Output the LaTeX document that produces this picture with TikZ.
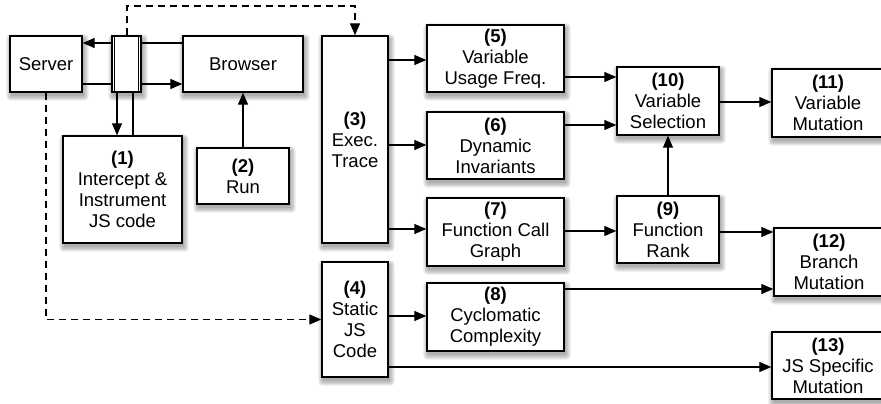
\documentclass[tikz,border=0pt]{standalone}
\usepackage{fontspec}
\setmainfont{Liberation Sans}
\usetikzlibrary{arrows.meta,backgrounds}
\begin{document}
\begin{tikzpicture}[x=1pt,y=-1pt,
  font=\fontsize{18.5}{21}\selectfont,
  box/.style={draw=black,line width=1.4pt,fill=white,inner sep=0pt,align=center},
  conn/.style={line width=1.3pt},
  arr/.style={conn,-{Triangle[length=12pt,width=10pt]}},
  dsh/.style={dash pattern=on 7pt off 5pt}]
\useasboundingbox (0,0) rectangle (881,404);
\clip (0,0) rectangle (881,404);
% nodes
\node[box,minimum width=72pt,minimum height=56pt] (server) at (46,64) {Server};
\node[box,minimum width=29pt,minimum height=56pt] (proxy) at (126.5,64) {};
\draw[line width=1.2pt] ([xshift=3.5pt]proxy.north west) -- ([xshift=3.5pt]proxy.south west)
  ([xshift=-3.5pt]proxy.north east) -- ([xshift=-3.5pt]proxy.south east);
\node[box,minimum width=120pt,minimum height=56pt] (browser) at (243,64) {Browser};
\node[box,minimum width=119pt,minimum height=107pt] (n1) at (122.5,189.5) {\textbf{(1)}\\Intercept \&\\Instrument\\JS code};
\node[box,minimum width=92pt,minimum height=56pt] (n2) at (243,176) {\textbf{(2)}\\Run};
\node[box,minimum width=66pt,minimum height=207pt] (n3) at (355,139.5) {\textbf{(3)}\\Exec.\\Trace};
\node[box,minimum width=66pt,minimum height=115pt] (n4) at (355,319.5) {\textbf{(4)}\\Static\\JS\\Code};
\node[box,minimum width=137pt,minimum height=67pt] (n5) at (495.5,58.5) {\textbf{(5)}\\Variable\\Usage Freq.};
\node[box,minimum width=137pt,minimum height=67pt] (n6) at (495.5,145.5) {\textbf{(6)}\\Dynamic\\Invariants};
\node[box,minimum width=137pt,minimum height=68pt] (n7) at (495.5,232) {\textbf{(7)}\\Function Call\\Graph};
\node[box,minimum width=137pt,minimum height=68pt] (n8) at (495.5,317) {\textbf{(8)}\\Cyclomatic\\Complexity};
\node[box,minimum width=102pt,minimum height=67pt] (n9) at (668,229.5) {\textbf{(9)}\\Function\\Rank};
\node[box,minimum width=102pt,minimum height=68pt] (n10) at (668,101) {\textbf{(10)}\\Variable\\Selection};
\node[box,minimum width=112pt,minimum height=68pt] (n11) at (828,103) {\textbf{(11)}\\Variable\\Mutation};
\node[box,minimum width=110pt,minimum height=68pt] (n12) at (829,262) {\textbf{(12)}\\Branch\\Mutation};
\node[box,minimum width=112pt,minimum height=67pt] (n13) at (828,365.5) {\textbf{(13)}\\JS Specific\\Mutation};
% soft shadows
\begin{scope}[on background layer]
\foreach \n in {server,proxy,browser,n1,n2,n3,n4,n5,n6,n7,n8,n9,n10,n11,n12,n13}{
  \foreach \e in {0,1.5,3,4.5}{
    \fill[black,opacity=0.09,rounded corners=\e pt]
      ([shift={(1.5-\e,3.5-\e)}]\n.north west) rectangle ([shift={(1.5+\e,3.5+\e)}]\n.south east);
  }
}
\end{scope}
% connectors around proxy
\draw[arr] (proxy.west |- 0,43) -- (server.east |- 0,43);
\draw[conn] (server.east |- 0,84) -- (proxy.west |- 0,84);
\draw[conn] (browser.west |- 0,43) -- (proxy.east |- 0,43);
\draw[arr] (proxy.east |- 0,84) -- (browser.west |- 0,84);
\draw[arr] (proxy.south -| 117,0) -- (n1.north -| 117,0);
\draw[conn] (n1.north -| 133,0) -- (proxy.south -| 133,0);
\draw[arr] (n2.north) -- (browser.south);
% dashed
\draw[arr,dsh] (proxy.north -| 127,0) -- (127,6) -| (n3.north);
\draw[arr,dsh] (server.south) |- (n4.west);
% analysis
\draw[arr] (n3.east |- 0,60) -- (n5.west |- 0,60);
\draw[arr] (n3.east |- 0,145) -- (n6.west |- 0,145);
\draw[arr] (n3.east |- 0,229) -- (n7.west |- 0,229);
\draw[arr] (n4.east |- 0,316) -- (n8.west |- 0,316);
\draw[arr] (n5.east |- 0,77) -- (n10.west |- 0,77);
\draw[arr] (n6.east |- 0,125) -- (n10.west |- 0,125);
\draw[arr] (n9.north) -- (n10.south);
\draw[arr] (n10.east |- 0,102) -- (n11.west |- 0,102);
\draw[arr] (n7.east |- 0,231) -- (n9.west |- 0,231);
\draw[arr] (n9.east |- 0,232) -- (n12.west |- 0,232);
\draw[arr] (n8.east |- 0,289) -- (n12.west |- 0,289);
\draw[arr] (n4.east |- 0,367) -- (n13.west |- 0,367);
\end{tikzpicture}
\end{document}
